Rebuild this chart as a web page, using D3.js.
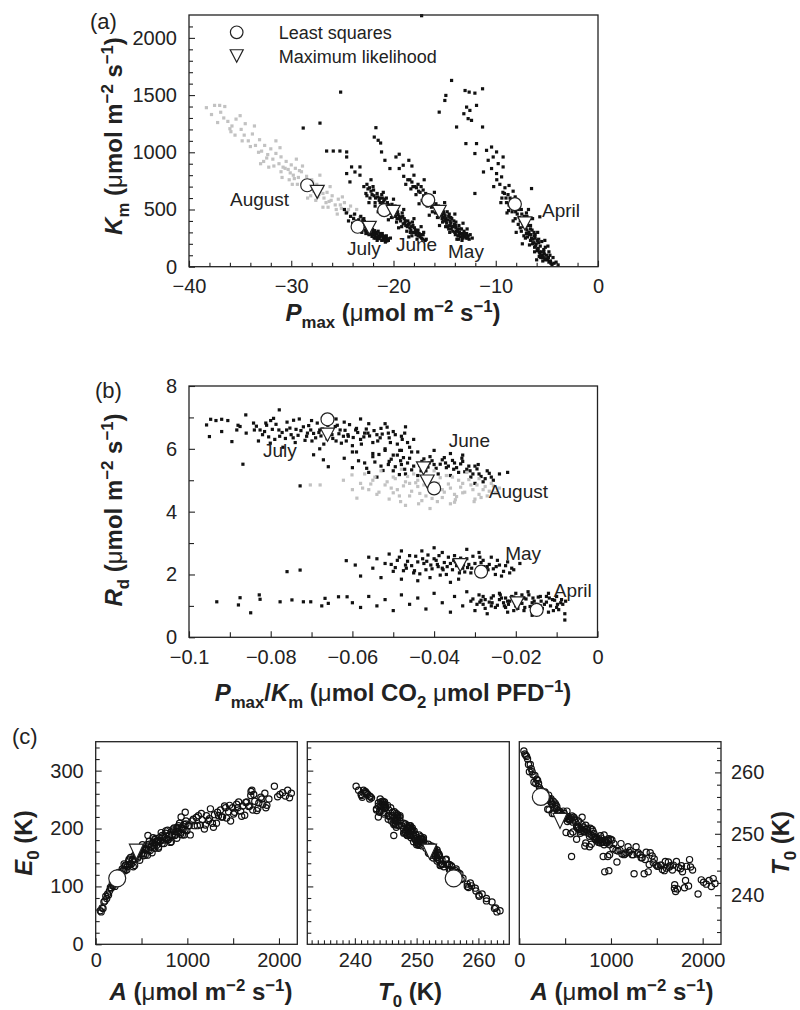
<!DOCTYPE html>
<html>
<head>
<meta charset="utf-8">
<script src="https://cdn.jsdelivr.net/npm/d3@7"></script>
<style>
  body { margin: 0; background: #fff; }
  svg { font-family: "Liberation Sans", Arial, Helvetica, sans-serif; }
</style>
</head>
<body>
<svg id="chart" width="800" height="1010"></svg>
<script>
// ---------- panel (a): Km vs Pmax, one cloud per month ----------
const augustA = [[-38.3,1390],[-37.5,1410],[-37.8,1330],[-36.9,1350],[-36.2,1270],[-35.8,1230],[-35.4,1290],[-35.9,1180],[-34.9,1200],[-34.6,1150],[-34.2,1100],[-33.8,1160],[-33.5,1060],[-33.1,1110],[-32.9,1010],[-32.6,1060],[-32.3,980],[-32.0,1030],[-31.8,940],[-31.5,990],[-31.2,900],[-31.0,960],[-30.8,870],[-30.5,920],[-30.3,850],[-30.0,890],[-29.8,800],[-29.6,860],[-29.3,780],[-29.0,830],[-28.8,740],[-28.5,790],[-28.3,700],[-28.0,760],[-27.8,660],[-27.5,720],[-27.3,630],[-27.0,690],[-26.8,600],[-26.5,650],[-26.3,570],[-26.0,620],[-25.7,540],[-25.4,590],[-25.1,510],[-24.8,560],[-24.5,480],[-24.2,530],[-23.9,450],[-23.6,500],[-23.3,430],[-33.0,900],[-31.5,1100],[-30.2,760],[-29.5,940],[-28.1,620],[-27.2,800],[-26.2,700],[-25.5,460],[-34.5,1250],[-36.5,1400],[-32.2,870],[-29.9,720],[-27.6,580],[-28.9,880],[-31.0,830],[-33.6,1230],[-35.0,1320],[-26.9,520],[-25.0,610],[-37.0,1410],[-36.0,1206],
  [-33.2,1000],[-32.4,950],[-31.7,880],[-31.1,1040],[-30.6,860],[-30.1,820],[-29.7,770],[-29.2,840],[-28.7,700],[-28.2,680],[-27.9,740],[-27.4,610],[-26.9,640],[-26.6,560],[-26.1,580],[-25.6,500],[-25.2,540],[-24.7,470],[-24.4,500],[-30.9,780],[-29.4,720],[-27.7,700],[-32.7,920],[-34.0,1050],[-34.8,1100],[-36.6,1300],[-37.2,1260],[-35.5,1150],[-28.4,600],[-26.4,520]];
const julyA = [[-25.17,1526],[-28.83,1212],[-27.19,1255],[-26.54,1011],[-25.89,1011],[-25.24,1011],[-24.58,959],[-24.1,872],[-24.58,814],[-24.26,741],[-24.58,1003],[-23.28,872],[-23.77,828],[-23.28,800],[-24.6,470],[-24.2,440],[-23.9,420],[-24.0,380],[-23.6,400],[-23.3,370],[-23.0,390],[-23.4,330],[-22.8,350],[-22.5,320],[-22.7,290],[-22.2,340],[-22.0,300],[-21.8,270],[-21.5,310],[-21.3,260],[-21.1,290],[-20.9,240],[-20.7,270],[-20.5,230],[-21.9,250],[-22.4,280],[-23.1,300],[-20.3,250],[-21.6,230],[-22.9,420],[-23.7,350],[-24.4,400],[-20.8,215],[-21.4,245],[-22.1,265],[-22.6,360],[-23.2,440],[-23.8,460],[-24.8,500],
  [-23.4,410],[-23.1,355],[-22.9,375],[-22.6,330],[-22.3,305],[-22.05,325],[-21.85,290],[-21.65,285],[-21.45,265],[-21.25,275],[-21.0,255],[-20.75,250],[-20.6,245],[-22.35,350],[-22.85,395],[-23.55,380],[-21.7,300],[-21.15,230],[-20.95,265],[-22.5,300],[-21.55,255],[-20.65,225],[-21.95,280],[-22.7,315],[-23.25,345],
  [-22.8,320],[-22.45,290],[-22.15,285],[-21.75,250],[-21.35,290],[-21.05,270],[-20.85,230],[-22.25,360],[-21.85,315],[-23.0,410]];
const juneA = [[-21.72,1215],[-21.88,1133],[-21.5,1105],[-21.26,1081],[-21.17,1003],[-20.84,930],[-20.35,858],[-22.2,760],[-22.6,720],[-22.9,700],[-22.5,680],[-22.7,640],[-22.2,660],[-21.9,620],[-22.3,600],[-21.6,640],[-21.4,580],[-21.8,560],[-21.1,600],[-20.9,540],[-21.2,520],[-20.6,560],[-20.4,500],[-20.7,470],[-20.1,520],[-19.9,460],[-20.2,430],[-19.6,480],[-19.4,420],[-19.7,390],[-19.1,440],[-18.9,380],[-19.2,350],[-18.6,400],[-18.4,340],[-18.7,310],[-18.1,360],[-17.9,300],[-18.2,270],[-17.6,320],[-17.4,260],[-17.7,240],[-17.1,280],[-16.9,230],[-22.0,700],[-21.0,650],[-20.0,590],[-19.0,500],[-18.0,420],[-17.3,350],[-22.4,560],[-21.5,480],[-20.5,410],[-19.5,340],[-18.5,260],
  [-22.35,690],[-22.1,630],[-21.95,670],[-21.75,600],[-21.55,610],[-21.3,560],[-21.15,630],[-20.95,575],[-20.8,520],[-20.55,530],[-20.3,470],[-20.15,545],[-19.95,500],[-19.8,440],[-19.55,455],[-19.3,400],[-19.15,470],[-18.95,420],[-18.8,360],[-18.55,370],[-18.3,320],[-18.15,390],[-17.95,340],[-17.8,280],[-17.5,290],[-17.25,250],[-17.05,300],[-16.8,240],[-20.7,600],[-19.85,530],[-19.05,375],[-18.35,300],[-17.6,270],[-21.8,530],[-22.6,620],
  [-21.35,600],[-21.05,560],[-20.85,590],[-20.45,540],[-20.25,500],[-20.05,465],[-19.75,470],[-19.45,440],[-19.25,430],[-18.85,400],[-18.65,350],[-18.45,380],[-18.25,350],[-18.05,300],[-17.85,320],[-17.65,300],[-17.35,280],[-17.15,240],[-20.6,500],[-19.65,420]];
const mayA = [[-17.25,2194],[-19.76,959],[-19.44,983],[-19.05,887],[-19.44,858],[-18.5,930],[-18.2,880],[-19.0,790],[-18.6,760],[-18.8,720],[-18.2,740],[-17.9,700],[-18.3,680],[-17.6,720],[-17.4,650],[-17.8,630],[-17.1,670],[-16.9,600],[-17.2,580],[-16.6,620],[-16.4,560],[-16.7,530],[-16.1,570],[-15.9,510],[-16.2,480],[-15.6,530],[-15.4,460],[-15.7,430],[-15.1,480],[-14.9,420],[-15.2,390],[-14.6,440],[-14.4,380],[-14.7,350],[-14.1,400],[-13.9,340],[-14.2,310],[-13.6,360],[-13.4,290],[-13.7,270],[-13.1,310],[-12.9,250],[-13.3,230],[-12.7,270],[-18.0,800],[-17.0,760],[-16.0,650],[-15.0,560],[-14.0,460],[-13.2,380],[-17.5,550],[-16.5,450],[-15.5,360],[-14.5,300],[-12.8,330],[-13.8,240],[-12.3,250],
  [-18.4,760],[-18.1,700],[-17.75,690],[-17.55,660],[-17.3,700],[-17.05,620],[-16.85,640],[-16.55,570],[-16.35,600],[-16.05,530],[-15.85,550],[-15.65,490],[-15.45,500],[-15.3,450],[-15.05,460],[-14.85,400],[-14.65,410],[-14.5,360],[-14.3,420],[-14.25,350],[-14.05,370],[-13.85,310],[-13.75,330],[-13.55,300],[-13.45,260],[-13.25,280],[-13.05,260],[-12.85,290],[-12.6,240],[-14.9,350],[-14.35,330],[-13.95,280],[-15.25,420],[-15.9,470],[-16.3,520],[-14.55,460],[-13.65,240],[-12.5,280],[-14.75,480],[-13.35,330],
  [-15.35,470],[-15.15,430],[-14.95,445],[-14.8,380],[-14.45,395],[-14.15,350],[-13.95,360],[-13.7,310],[-13.5,330],[-13.3,270],[-13.15,290],[-12.95,275],[-12.75,250],[-14.6,330],[-14.0,300],[-13.6,280],[-15.1,400],[-14.4,430],[-13.9,390],[-13.25,250]];
const aprilA = [[-14.32,1628],[-14.88,1497],[-14.98,1453],[-15.53,1351],[-13.0,1540],[-12.6,1526],[-12.04,1517],[-11.29,1555],[-12.85,1395],[-13.12,1337],[-12.53,1366],[-12.7,1294],[-12.37,1279],[-11.88,1410],[-13.83,1221],[-11.29,1221],[-12.92,1076],[-11.88,1076],[-12.04,989],[-10.9,1017],[-10.41,1046],[-9.92,1003],[-10.74,930],[-10.25,959],[-9.76,901],[-9.28,959],[-10.41,858],[-11.2,828],[-9.92,814],[-9.28,872],[-9.43,785],[-12.04,640],[-6.5,683],[-5.69,436],[-9.6,720],[-9.1,690],[-8.7,710],[-9.3,650],[-8.8,630],[-8.3,660],[-9.0,600],[-8.5,580],[-8.1,610],[-8.7,540],[-8.2,520],[-7.8,560],[-8.4,480],[-7.9,460],[-7.5,500],[-8.1,420],[-7.6,400],[-7.2,440],[-7.8,370],[-7.3,350],[-6.9,390],[-7.5,310],[-7.0,290],[-6.6,330],[-7.1,250],[-6.6,230],[-6.2,270],[-6.7,190],[-6.2,170],[-5.8,210],[-6.2,130],[-5.7,120],[-5.3,150],[-5.6,80],[-5.1,70],[-4.7,100],[-4.8,40],[-4.3,30],[-3.9,15],[-9.9,760],[-10.2,700],[-9.5,560],[-8.9,470],[-6.4,420],[-5.9,300],[-5.2,230],[-4.9,180],[-6.8,500],[-8.0,300],[-7.4,200],[-6.0,60],[-4.4,80],
  [-9.15,640],[-8.95,560],[-8.6,600],[-8.35,540],[-8.05,480],[-7.95,520],[-7.7,430],[-7.45,460],[-7.35,380],[-7.15,410],[-7.05,340],[-6.85,360],[-6.75,300],[-6.55,280],[-6.45,320],[-6.35,240],[-6.15,250],[-6.05,200],[-5.95,230],[-5.85,160],[-5.65,180],[-5.55,130],[-5.45,100],[-5.25,110],[-5.05,100],[-4.95,60],[-4.65,50],[-4.5,20],[-4.1,40],[-7.6,340],[-6.9,260],[-6.4,200],[-5.9,150],[-5.4,50],[-7.25,270],[-6.25,300],[-8.3,400],[-6.95,440],[-5.5,220],[-4.8,130],[-9.4,600],[-8.75,490],[-5.75,90],[-5.15,170],
  [-7.4,420],[-7.2,360],[-6.95,320],[-6.7,280],[-6.5,250],[-6.3,210],[-6.1,180],[-5.95,140],[-5.75,130],[-5.6,100],[-5.35,80],[-5.2,60],[-4.85,80],[-4.6,30],[-6.6,360],[-6.15,280],[-5.8,240],[-5.3,130],[-7.0,470],[-7.8,500]];
// fitted values: August, July, June, May, April
const leastSqA = [[-28.44,712],[-23.51,349],[-20.91,494],[-16.6,582],[-8.13,547]];
const maxLikA = [[-27.46,654],[-22.37,340],[-20.03,480],[-15.53,480],[-7.15,378]];
const monthLabelsA = [["August",-35.99,530],["July",-24.55,102],["June",-19.76,137],["May",-14.67,76],["April",-5.48,434]];

// ---------- panel (b): Rd vs Pmax/Km ----------
const julyB = [[-0.0957,6.76],[-0.0947,6.94],[-0.0934,6.90],[-0.092,6.94],[-0.0905,6.90],[-0.095,6.39],[-0.092,6.55],[-0.0895,6.23],[-0.0868,5.51],[-0.0728,4.82],[-0.0883,6.60],[-0.0875,6.71],[-0.0861,7.08],[-0.0842,6.82],[-0.0826,6.60],[-0.0793,6.97],[-0.0779,7.24],[-0.0801,6.18],[-0.0761,6.60],[-0.0695,5.81],[-0.0671,5.65],[-0.0659,5.43],[-0.084,6.6],[-0.082,6.45],[-0.081,6.75],[-0.079,6.3],[-0.078,6.6],[-0.076,6.85],[-0.075,6.45],[-0.074,6.2],[-0.072,6.7],[-0.071,6.5],[-0.070,6.9],[-0.069,6.35],[-0.068,6.6],[-0.067,6.15],[-0.066,6.75],[-0.065,6.45],[-0.064,6.25],[-0.063,6.6],[-0.062,6.85],[-0.061,6.4],[-0.060,6.1],[-0.059,6.65],[-0.058,6.3],[-0.057,6.5],[-0.056,6.8],[-0.055,6.2],[-0.054,6.45],[-0.053,6.65],[-0.052,6.0],[-0.051,6.35],[-0.050,6.55],[-0.049,6.15],[-0.048,6.4],[-0.047,6.7],[-0.046,6.05],[-0.045,6.3],[-0.080,6.9],[-0.077,6.05],[-0.073,6.95],[-0.068,6.0],[-0.064,6.95],[-0.060,5.9],[-0.058,6.95],[-0.055,5.85],[-0.052,6.8],[-0.050,5.8],[-0.083,6.25],[-0.086,6.5],[-0.088,6.75],
  [-0.0835,6.72],[-0.0815,6.55],[-0.0805,6.38],[-0.0787,6.78],[-0.0772,6.52],[-0.0764,6.33],[-0.0753,6.66],[-0.0744,6.91],[-0.0733,6.43],[-0.0726,6.58],[-0.0716,6.27],[-0.0707,6.74],[-0.0695,6.49],[-0.0686,6.82],[-0.0677,6.41],[-0.0673,6.63],[-0.0657,6.56],[-0.0648,6.33],[-0.0642,6.71],[-0.0633,6.48],[-0.0627,6.18],[-0.0618,6.59],[-0.0607,6.77],[-0.0598,6.36],[-0.0587,6.52],[-0.0578,6.15],[-0.0566,6.63],[-0.0558,6.41],[-0.0547,6.58],[-0.0538,6.25],[-0.0527,6.47],[-0.0515,6.69],[-0.0507,6.2],[-0.0495,6.45],[-0.0484,5.95],[-0.0472,6.5],[-0.0465,6.2],[-0.0455,5.9],[-0.0796,6.62],[-0.0745,6.35],[-0.0699,6.25],[-0.0652,6.85],[-0.0611,6.45],[-0.0572,6.38],
  [-0.0812,6.82],[-0.0778,6.4],[-0.0738,6.62],[-0.0712,6.4],[-0.0682,6.52],[-0.0662,6.32],[-0.0637,6.75],[-0.0615,6.25],[-0.0592,6.6],[-0.0562,6.5],[-0.0532,6.35],[-0.0512,6.5],[-0.0478,6.3],[-0.0702,6.6],[-0.0622,6.4]];
const juneB = [[-0.062,5.7],[-0.060,5.4],[-0.059,5.9],[-0.057,5.55],[-0.056,5.25],[-0.055,5.75],[-0.053,5.45],[-0.052,5.95],[-0.051,5.6],[-0.050,5.3],[-0.049,5.8],[-0.048,5.5],[-0.047,5.2],[-0.046,5.7],[-0.045,5.45],[-0.044,5.9],[-0.043,5.6],[-0.042,5.3],[-0.041,5.75],[-0.040,5.5],[-0.039,5.2],[-0.038,5.65],[-0.037,5.4],[-0.036,5.85],[-0.035,5.55],[-0.034,5.25],[-0.033,5.6],[-0.032,5.35],[-0.031,5.1],[-0.030,5.45],[-0.029,5.2],[-0.028,4.95],[-0.027,5.3],[-0.026,5.1],[-0.024,5.2],[-0.022,5.25],[-0.054,5.1],[-0.048,5.95],[-0.044,5.15],[-0.040,5.95],[-0.036,5.15],[-0.033,5.8],[-0.030,4.9],
  [-0.0585,5.62],[-0.0565,5.38],[-0.0545,5.58],[-0.0535,5.82],[-0.0525,5.31],[-0.0505,5.67],[-0.0495,5.43],[-0.0485,5.18],[-0.0475,5.72],[-0.0465,5.55],[-0.0455,5.33],[-0.0435,5.47],[-0.0425,5.68],[-0.0415,5.42],[-0.0405,5.62],[-0.0395,5.38],[-0.0385,5.51],[-0.0375,5.72],[-0.0365,5.45],[-0.0355,5.63],[-0.0345,5.4],[-0.0335,5.52],[-0.0325,5.27],[-0.0315,5.45],[-0.0305,5.2],[-0.0295,5.36],[-0.0285,5.12],[-0.0275,5.05],[-0.0265,5.22],[-0.0255,5.0],
  [-0.0512,5.5],[-0.0472,5.35],[-0.0432,5.3],[-0.0412,5.55],[-0.0372,5.55],[-0.0352,5.35],[-0.0332,5.7],[-0.0312,5.3],[-0.0292,5.5],[-0.0482,5.62]];
const augustB = [[-0.0703,4.85],[-0.0679,4.85],[-0.0622,5.0],[-0.0601,5.17],[-0.0589,4.43],[-0.058,4.9],[-0.057,5.2],[-0.056,4.7],[-0.055,5.0],[-0.054,4.55],[-0.053,5.3],[-0.052,4.85],[-0.051,4.4],[-0.050,5.1],[-0.049,4.7],[-0.048,5.35],[-0.047,4.95],[-0.046,4.5],[-0.045,5.2],[-0.044,4.8],[-0.043,4.35],[-0.042,5.05],[-0.041,4.65],[-0.040,5.3],[-0.039,4.9],[-0.038,4.45],[-0.037,5.15],[-0.036,4.75],[-0.035,4.3],[-0.034,5.0],[-0.033,4.6],[-0.032,5.25],[-0.031,4.85],[-0.030,4.4],[-0.029,5.05],[-0.028,4.7],[-0.027,4.5],[-0.026,4.9],[-0.025,4.6],[-0.024,4.75],[-0.047,4.2],[-0.041,4.1],[-0.036,4.25],[-0.060,4.7],[-0.050,4.6],[-0.044,5.0],[-0.038,4.7],[-0.033,4.9],[-0.029,4.55],[-0.046,4.9],[-0.042,4.5],[-0.035,4.55],
  [-0.0575,4.75],[-0.0555,4.88],[-0.0545,5.1],[-0.0535,4.62],[-0.0515,4.95],[-0.0505,4.75],[-0.0495,5.05],[-0.0485,4.5],[-0.0475,4.82],[-0.0465,5.12],[-0.0455,4.65],[-0.0445,4.92],[-0.0435,4.58],[-0.0425,4.85],[-0.0415,4.98],[-0.0405,4.42],[-0.0395,4.72],[-0.0385,5.08],[-0.0375,4.62],[-0.0365,4.88],[-0.0355,5.1],[-0.0345,4.48],[-0.0335,4.78],[-0.0325,4.62],[-0.0315,5.02],[-0.0305,4.7],[-0.0295,4.85],[-0.0285,4.45],[-0.0275,4.8],[-0.0265,4.65],[-0.0255,4.82],[-0.0482,4.32],[-0.0438,4.25],[-0.0392,4.32],[-0.0348,4.38],[-0.0302,4.32]];
const mayB = [[-0.076,2.09],[-0.0728,2.14],[-0.0615,2.44],[-0.0593,2.30],[-0.058,1.95],[-0.056,2.55],[-0.055,2.2],[-0.054,2.5],[-0.053,1.9],[-0.052,2.35],[-0.051,2.65],[-0.050,2.1],[-0.049,2.45],[-0.048,1.85],[-0.047,2.3],[-0.046,2.6],[-0.045,2.05],[-0.044,2.4],[-0.043,2.75],[-0.042,2.15],[-0.041,1.9],[-0.040,2.5],[-0.039,2.25],[-0.038,2.7],[-0.037,2.0],[-0.036,2.35],[-0.035,2.6],[-0.034,1.85],[-0.033,2.2],[-0.032,2.5],[-0.031,2.05],[-0.030,2.35],[-0.029,2.7],[-0.028,1.95],[-0.027,2.25],[-0.026,2.55],[-0.025,2.0],[-0.024,2.3],[-0.023,2.1],[-0.022,2.4],[-0.021,2.2],[-0.019,2.35],[-0.048,2.75],[-0.044,1.8],[-0.040,2.85],[-0.036,1.75],[-0.032,2.8],[-0.028,2.45],[-0.034,2.4],[-0.038,2.2],
  [-0.0505,2.32],[-0.0495,2.22],[-0.0485,2.55],[-0.0475,2.12],[-0.0465,2.42],[-0.0455,2.28],[-0.0445,2.58],[-0.0435,2.02],[-0.0425,2.35],[-0.0415,2.62],[-0.0405,2.18],[-0.0395,2.45],[-0.0385,1.98],[-0.0375,2.38],[-0.0365,2.55],[-0.0355,2.15],[-0.0345,2.28],[-0.0335,2.52],[-0.0325,2.08],[-0.0315,2.32],[-0.0305,2.58],[-0.0295,2.12],[-0.0285,2.38],[-0.0275,2.05],[-0.0265,2.32],[-0.0255,2.18],[-0.0245,2.45],[-0.0235,1.95],[-0.0225,2.28],[-0.0215,2.05],[-0.0205,2.15],[-0.0392,2.32],[-0.0348,2.4],[-0.0318,2.22],[-0.0278,2.25],
  [-0.0468,2.2],[-0.0448,2.12],[-0.0428,2.5],[-0.0408,2.3],[-0.0388,2.6],[-0.0368,2.25],[-0.0352,2.45],[-0.0328,2.3],[-0.0308,2.2],[-0.0288,2.55],[-0.0268,2.15],[-0.0248,2.25],[-0.0338,2.05],[-0.0378,2.15],[-0.0418,2.42]];
const aprilB = [[-0.0932,1.13],[-0.0879,1.03],[-0.0875,1.26],[-0.0849,0.78],[-0.0828,1.35],[-0.0826,1.21],[-0.0777,1.13],[-0.0748,1.19],[-0.072,1.13],[-0.0702,1.13],[-0.0675,1.0],[-0.0667,1.24],[-0.0659,1.08],[-0.0634,1.29],[-0.0613,1.29],[-0.060,1.1],[-0.058,0.95],[-0.056,1.3],[-0.054,1.0],[-0.052,1.2],[-0.050,0.85],[-0.048,1.35],[-0.046,1.05],[-0.044,1.25],[-0.042,0.9],[-0.040,1.4],[-0.038,1.1],[-0.036,0.8],[-0.035,1.3],[-0.033,1.0],[-0.032,1.45],[-0.031,1.15],[-0.030,0.85],[-0.029,1.35],[-0.028,1.05],[-0.027,0.75],[-0.026,1.25],[-0.025,0.95],[-0.024,1.4],[-0.023,1.1],[-0.022,0.8],[-0.021,1.3],[-0.020,1.0],[-0.019,1.2],[-0.018,0.85],[-0.017,1.45],[-0.016,1.1],[-0.015,0.9],[-0.014,1.3],[-0.013,1.05],[-0.012,0.8],[-0.011,1.2],[-0.010,0.95],[-0.009,1.1],[-0.008,0.75],[-0.012,1.4],[-0.016,0.7],[-0.020,1.4],[-0.024,1.2],[-0.028,1.3],[-0.018,1.25],[-0.014,1.0],[-0.022,1.15],[-0.026,1.0],[-0.010,1.3],[-0.008,0.55],
  [-0.0305,1.22],[-0.0295,1.05],[-0.0285,1.18],[-0.0275,0.92],[-0.0265,1.12],[-0.0255,1.32],[-0.0245,1.02],[-0.0235,1.25],[-0.0225,0.95],[-0.0215,1.15],[-0.0205,1.28],[-0.0195,0.92],[-0.0185,1.08],[-0.0175,1.22],[-0.0165,0.98],[-0.0155,1.15],[-0.0145,1.28],[-0.0135,0.92],[-0.0125,1.12],[-0.0115,1.0],[-0.0105,1.18],[-0.0095,0.88],[-0.0085,1.05],[-0.0078,1.15],[-0.0125,1.3],[-0.0185,1.35],[-0.0225,1.25],[-0.0155,0.82],[-0.0205,0.85],[-0.0275,1.2],
  [-0.0288,1.12],[-0.0258,1.1],[-0.0238,1.35],[-0.0218,1.05],[-0.0198,1.15],[-0.0178,0.95],[-0.0158,1.25],[-0.0138,1.15],[-0.0118,1.25],[-0.0098,1.05],[-0.0088,1.2],[-0.0168,1.35],[-0.0148,1.05],[-0.0108,0.85],[-0.0228,1.0]];
// fitted values: July, August(/June), May, April (one June circle hidden under the triangles)
const leastSqB = [[-0.0661,6.94],[-0.040,4.74],[-0.0285,2.09],[-0.0149,0.87]];
const maxLikB = [[-0.0661,6.45],[-0.0426,5.38],[-0.0417,4.96],[-0.0336,2.30],[-0.0197,1.08]];
const monthLabelsB = [["July",-0.0819,5.74],["June",-0.0364,6.06],["August",-0.0266,4.43],["May",-0.0226,2.46],["April",-0.0107,1.28]];

// ---------- panel (c): samples [A, E0, T0] ----------
const samples = [[50,58,263.5],[60,56,263.0],[70,63,262.8],[80,62,262.6],[90,73,262.2],[100,75,261.3],[110,83,260.1],[120,79,261.3],[130,87,260.6],[140,85,260.1],[150,92,259.6],[160,98,258.4],[170,97,259.5],[180,104,258.2],[190,101,258.9],[200,106,258.7],[210,100,258.2],[220,114,257.5],[230,112,257.2],[240,122,257.0],
  [250,124,256.7],[260,117,256.4],[270,123,256.6],[280,116,256.8],[290,130,256.4],[300,127,255.8],[310,139,254.0],[320,127,256.3],[330,136,255.6],[340,129,255.3],[350,137,255.0],[360,144,253.3],[370,138,255.3],[380,150,253.3],[390,139,255.0],[400,146,254.7],
  [410,134,254.4],[420,153,253.5],[430,147,253.4],[440,159,253.4],[450,161,253.0],[460,149,252.7],[470,157,253.0],[480,145,253.7],[490,163,253.3],[500,157,252.6],[510,172,250.2],[520,153,253.7],[530,166,252.8],[540,154,252.5],[550,164,252.2],[560,172,250.0],[570,188,246.3],[575,163,252.9],[585,178,250.3],[595,162,252.7],
  [605,170,252.4],[615,158,251.9],[625,176,251.1],[635,170,250.9],[645,181,251.1],[655,183,250.7],[665,171,250.4],[675,178,250.8],[685,166,251.5],[695,184,251.1],[705,178,250.4],[715,193,248.0],[725,174,251.4],[735,186,250.7],[745,174,250.3],[755,184,250.1],[765,192,247.9],[775,182,250.9],[785,197,248.3],[795,181,250.7],
  [805,189,250.4],[815,176,250.0],[825,194,249.2],[835,188,249.0],[845,199,249.2],[855,201,248.8],[865,188,248.6],[875,195,249.0],[885,183,249.7],[895,201,249.3],[905,195,248.6],[915,209,246.3],[925,190,249.8],[935,202,249.0],[945,189,248.8],[955,199,248.5],[965,207,246.3],[975,198,249.2],[985,213,246.6],[995,196,249.1],[977,228,244.0],[932,220,243.8],
  [305,129,255.5],[325,137,253.9],[345,134,255.7],[365,147,254.8],[385,138,254.2],[405,146,254.1],[425,136,253.8],[445,156,253.6],[465,152,253.0],[485,164,252.5],[505,167,252.8],[525,157,252.0],[545,165,252.3],[565,154,252.6],[585,173,251.9],[605,168,252.2],[625,184,249.1],[645,166,252.1],[665,179,250.1],[685,168,252.7],
  [705,179,250.3],[725,188,248.5],[745,180,250.9],[765,196,249.6],[785,180,249.8],[805,189,249.5],[825,177,249.5],[845,196,249.4],[865,190,249.0],[885,202,248.5],[905,205,248.8],[925,193,248.2],[945,200,248.6],[965,189,248.9],[985,208,248.2],
  [1010,205,249.0],[1032,189,248.4],[1054,213,247.3],[1076,205,247.2],[1098,219,247.3],[1120,222,246.7],[1142,206,246.6],[1164,215,246.9],[1186,199,247.9],[1208,222,247.3],[1230,214,246.6],[1252,234,243.5],[1274,209,247.9],[1296,224,246.9],[1318,209,246.6],[1340,222,246.1],[1362,232,243.5],[1384,220,247.0],[1406,239,243.8],[1428,218,246.9],
  [1450,229,246.4],[1472,213,245.9],[1494,236,244.9],[1516,228,244.7],[1538,242,244.9],[1560,246,244.2],[1582,230,244.0],[1604,239,244.4],[1626,223,245.4],[1648,246,244.8],[1670,238,244.1],[1692,257,241.1],[1714,232,245.5],[1736,247,244.5],[1758,231,244.3],[1780,244,243.8],[1802,254,241.2],[1824,242,244.7],[1846,261,241.5],[1868,240,244.6],[1890,251,244.1],
  [1021,205,247.6],[1065,216,245.4],[1109,205,248.4],[1153,226,246.7],[1197,206,247.0],[1241,217,246.6],[1285,202,246.7],[1329,228,246.1],[1373,220,245.8],[1417,236,245.0],[1461,240,245.3],[1505,225,244.7],[1549,236,244.9],[1593,221,245.5],[1637,245,244.6],[1681,239,244.9],[1725,259,241.0],[1769,235,244.8],[1813,251,242.4],[1857,236,245.8],
  [1705,266,240.6],[1695,264,241.7],[1950,273,240.2],[1985,255,242.5],[2010,259,242.1],[2040,262,241.8],[2070,256,242.4],[2095,266,241.4],[2115,253,242.7],[2135,261,241.9]];
const leastSqC = [[235,114,256.0]];
const maxLikC = [[444,160,252.1]];

// ---------- ticks ----------
const ticksPmax = [-40,-30,-20,-10,0];
const ticksKm = [0,500,1000,1500,2000];
const ticksRatio = [-0.1,-0.08,-0.06,-0.04,-0.02,0];
const ticksRd = [0,2,4,6,8];
const ticksA = [0,1000,2000];
const ticksE0 = [0,100,200,300];
const ticksT0 = [240,250,260];

const svg = d3.select("#chart");
const ink = "#222";
const fmt = d => d === 0 ? "0" : d3.format("~g")(d);

// scales
const xA = d3.scaleLinear([-40, 0], [189, 598]);
const yA = d3.scaleLinear([0, 2200], [266.7, 15]);
const xB = d3.scaleLinear([-0.1, 0], [189, 597.5]);
const yB = d3.scaleLinear([0, 8], [637.3, 386]);
const xC1 = d3.scaleLinear([0, 2200], [95.7, 297.3]);
const yE = d3.scaleLinear([0, 350], [944.3, 741.7]);
const xC2 = d3.scaleLinear([232.3, 265], [307.3, 509.3]);
const xC3 = d3.scaleLinear([0, 2200], [519.3, 721]);
const yT = d3.scaleLinear([232, 265], [944.3, 741.7]);

function frame(x, y) {
    svg.append("rect")
        .attr("x", x.range()[0]).attr("y", y.range()[1])
        .attr("width", x.range()[1] - x.range()[0])
        .attr("height", y.range()[0] - y.range()[1])
        .attr("fill", "none").attr("stroke", ink).attr("stroke-width", 1.3);
}

// inward ticks; labels only when asked
function axis(maker, scale, values, size, pad, labelled, transform) {
    const ax = maker(scale).tickValues(values).tickSize(-size).tickPadding(pad);
    ax.tickFormat(labelled ? fmt : "");
    const g = svg.append("g").attr("transform", transform).call(ax);
    g.select(".domain").remove();
    g.attr("font-size", 20).attr("font-family", null);
    g.selectAll("line").attr("stroke", ink).attr("stroke-width", 1.1);
    g.selectAll("text").attr("fill", ink);
}

function dots(x, y, data, color) {
    svg.append("g").selectAll("rect").data(data).join("rect")
        .attr("x", d => x(d[0]) - 1.6).attr("y", d => y(d[1]) - 1.6)
        .attr("width", 3.2).attr("height", 3.2).attr("fill", color);
}

function rings(x, y, data) {
    svg.append("g").selectAll("circle").data(data).join("circle")
        .attr("cx", d => x(d[0])).attr("cy", d => y(d[1])).attr("r", 3.1)
        .attr("fill", "none").attr("stroke", "#111").attr("stroke-width", 1.2);
}

const triPath = (w, h) => `M${-w / 2},${-h / 2}L${w / 2},${-h / 2}L0,${h / 2}Z`;

function fits(x, y, ls, ml, r, w, h) {
    svg.append("g").selectAll("circle").data(ls).join("circle")
        .attr("cx", d => x(d[0])).attr("cy", d => y(d[1])).attr("r", r)
        .attr("fill", "#fff").attr("stroke", ink).attr("stroke-width", 1.2);
    svg.append("g").selectAll("path").data(ml).join("path")
        .attr("d", triPath(w, h))
        .attr("transform", d => `translate(${x(d[0])},${y(d[1])})`)
        .attr("fill", "#fff").attr("stroke", ink).attr("stroke-width", 1.2);
}

// text with italic / sub / sup parts
function rich(t, parts, size) {
    let cur = 0;
    parts.forEach(([s, k]) => {
        const target = k === "sub" ? 0.28 * size : k === "sup" ? -0.38 * size : 0;
        const ts = t.append("tspan").text(s).attr("dy", target - cur);
        cur = target;
        if (k === "sub" || k === "sup") ts.attr("font-size", size * 0.7);
        if (k === "i") ts.attr("font-style", "italic");
        if (k === "mu") ts.attr("font-weight", "normal");
    });
}

function title(x, y, rot, parts, size = 24) {
    const t = svg.append("text")
        .attr("transform", `translate(${x},${y})` + (rot ? " rotate(-90)" : ""))
        .attr("text-anchor", "middle").attr("font-weight", "bold")
        .attr("font-size", size).attr("fill", ink);
    rich(t, parts, size);
}

const unitsFlux = [[" (", "n"], ["μ", "mu"], ["mol m", "n"], ["−2", "sup"], [" s", "n"], ["−1", "sup"], [")", "n"]];

function monthLabels(x, y, labels) {
    svg.append("g").selectAll("text").data(labels).join("text")
        .attr("x", d => x(d[1])).attr("y", d => y(d[2]))
        .attr("font-size", 19).attr("fill", ink).text(d => d[0]);
}

// ================= (a) =================
dots(xA, yA, augustA, "#c2c2c2");
[julyA, juneA, mayA, aprilA].forEach(s => dots(xA, yA, s, "#111"));
fits(xA, yA, leastSqA, maxLikA, 6.5, 14, 13);
monthLabels(xA, yA, monthLabelsA);
frame(xA, yA);
axis(d3.axisBottom, xA, ticksPmax, 6, 12, true, `translate(0,${yA(0)})`);
axis(d3.axisBottom, xA, d3.range(-38, 0, 2).filter(v => v % 10), 4, 12, false, `translate(0,${yA(0)})`);
axis(d3.axisLeft, yA, ticksKm, 6, 12, true, `translate(${xA(-40)},0)`);
axis(d3.axisLeft, yA, d3.range(100, 2200, 100).filter(v => v % 500), 4, 12, false, `translate(${xA(-40)},0)`);

// legend
const leg = svg.append("g").attr("transform", "translate(236.7,0)");
leg.append("circle").attr("cy", 32.3).attr("r", 6.3).attr("fill", "#fff").attr("stroke", ink).attr("stroke-width", 1.2);
leg.append("path").attr("d", triPath(13, 12.5)).attr("transform", "translate(0,56)")
    .attr("fill", "#fff").attr("stroke", ink).attr("stroke-width", 1.2);
leg.append("text").attr("x", 42).attr("y", 38.5).attr("font-size", 18).attr("fill", ink).text("Least squares");
leg.append("text").attr("x", 42).attr("y", 62.5).attr("font-size", 18).attr("fill", ink).text("Maximum likelihood");

title(393, 321, false, [["P", "i"], ["max", "sub"], ...unitsFlux]);
title(122, 136, true, [["K", "i"], ["m", "sub"], ...unitsFlux]);
svg.append("text").attr("x", 90).attr("y", 29).attr("font-size", 22).attr("fill", ink).text("(a)");

// ================= (b) =================
[julyB, juneB, mayB, aprilB].forEach(s => dots(xB, yB, s, "#111"));
dots(xB, yB, augustB, "#c2c2c2");
fits(xB, yB, leastSqB, maxLikB, 6.5, 14, 13);
monthLabels(xB, yB, monthLabelsB);
frame(xB, yB);
axis(d3.axisBottom, xB, ticksRatio, 6, 13, true, `translate(0,${yB(0)})`);
axis(d3.axisBottom, xB, [-0.09, -0.07, -0.05, -0.03, -0.01], 5, 13, false, `translate(0,${yB(0)})`);
axis(d3.axisLeft, yB, ticksRd, 6, 12, true, `translate(${xB(-0.1)},0)`);
axis(d3.axisLeft, yB, [1, 3, 5, 7], 5, 12, false, `translate(${xB(-0.1)},0)`);

title(393, 701, false, [["P", "i"], ["max", "sub"], ["/", "n"], ["K", "i"], ["m", "sub"], [" (", "n"], ["μ", "mu"], ["mol CO", "n"], ["2", "sub"], [" ", "n"], ["μ", "mu"], ["mol PFD", "n"], ["−1", "sup"], [")", "n"]]);
title(122, 510, true, [["R", "i"], ["d", "sub"], ...unitsFlux]);
svg.append("text").attr("x", 95).attr("y", 398).attr("font-size", 22).attr("fill", ink).text("(b)");

// ================= (c) =================
const eA = samples.map(d => [d[0], d[1]]);
const eT = samples.map(d => [d[2], d[1]]);
const tA = samples.map(d => [d[0], d[2]]);
rings(xC1, yE, eA);
rings(xC2, yE, eT);
rings(xC3, yT, tA);
fits(xC1, yE, leastSqC.map(d => [d[0], d[1]]), maxLikC.map(d => [d[0], d[1]]), 8.5, 14, 15);
fits(xC2, yE, leastSqC.map(d => [d[2], d[1]]), maxLikC.map(d => [d[2], d[1]]), 8.5, 14, 15);
fits(xC3, yT, leastSqC.map(d => [d[0], d[2]]), maxLikC.map(d => [d[0], d[2]]), 8.5, 14, 15);

frame(xC1, yE); frame(xC2, yE); frame(xC3, yT);
// left
axis(d3.axisBottom, xC1, ticksA, 6, 9, true, `translate(0,${yE(0)})`);
axis(d3.axisBottom, xC1, [500, 1500], 6, 9, false, `translate(0,${yE(0)})`);
axis(d3.axisLeft, yE, ticksE0, 6, 12, true, `translate(${xC1(0)},0)`);
axis(d3.axisLeft, yE, d3.range(20, 350, 20).filter(v => v % 100), 4, 12, false, `translate(${xC1(0)},0)`);
// middle
axis(d3.axisBottom, xC2, ticksT0, 6, 9, true, `translate(0,${yE(0)})`);
axis(d3.axisBottom, xC2, d3.range(233, 265).filter(v => v % 10), 4, 9, false, `translate(0,${yE(0)})`);
axis(d3.axisLeft, yE, [100, 200, 300], 6, 12, false, `translate(${xC2.range()[0]},0)`);
axis(d3.axisLeft, yE, d3.range(20, 350, 20).filter(v => v % 100), 4, 12, false, `translate(${xC2.range()[0]},0)`);
// right
axis(d3.axisBottom, xC3, ticksA, 6, 9, true, `translate(0,${yT(232)})`);
axis(d3.axisBottom, xC3, [500, 1500], 6, 9, false, `translate(0,${yT(232)})`);
axis(d3.axisRight, yT, ticksT0, 6, 10, true, `translate(${xC3(2200)},0)`);
axis(d3.axisRight, yT, d3.range(234, 265, 2).filter(v => v % 10), 4, 10, false, `translate(${xC3(2200)},0)`);

title(201, 1000, false, [["A", "i"], ...unitsFlux]);
title(410, 1000, false, [["T", "i"], ["0", "sub"], [" (K)", "n"]]);
title(622, 1000, false, [["A", "i"], ...unitsFlux]);
title(32, 843, true, [["E", "i"], ["0", "sub"], [" (K)", "n"]]);
title(789, 843, true, [["T", "i"], ["0", "sub"], [" (K)", "n"]]);
svg.append("text").attr("x", 12).attr("y", 744).attr("font-size", 22).attr("fill", ink).text("(c)");
</script>
</body>
</html>
